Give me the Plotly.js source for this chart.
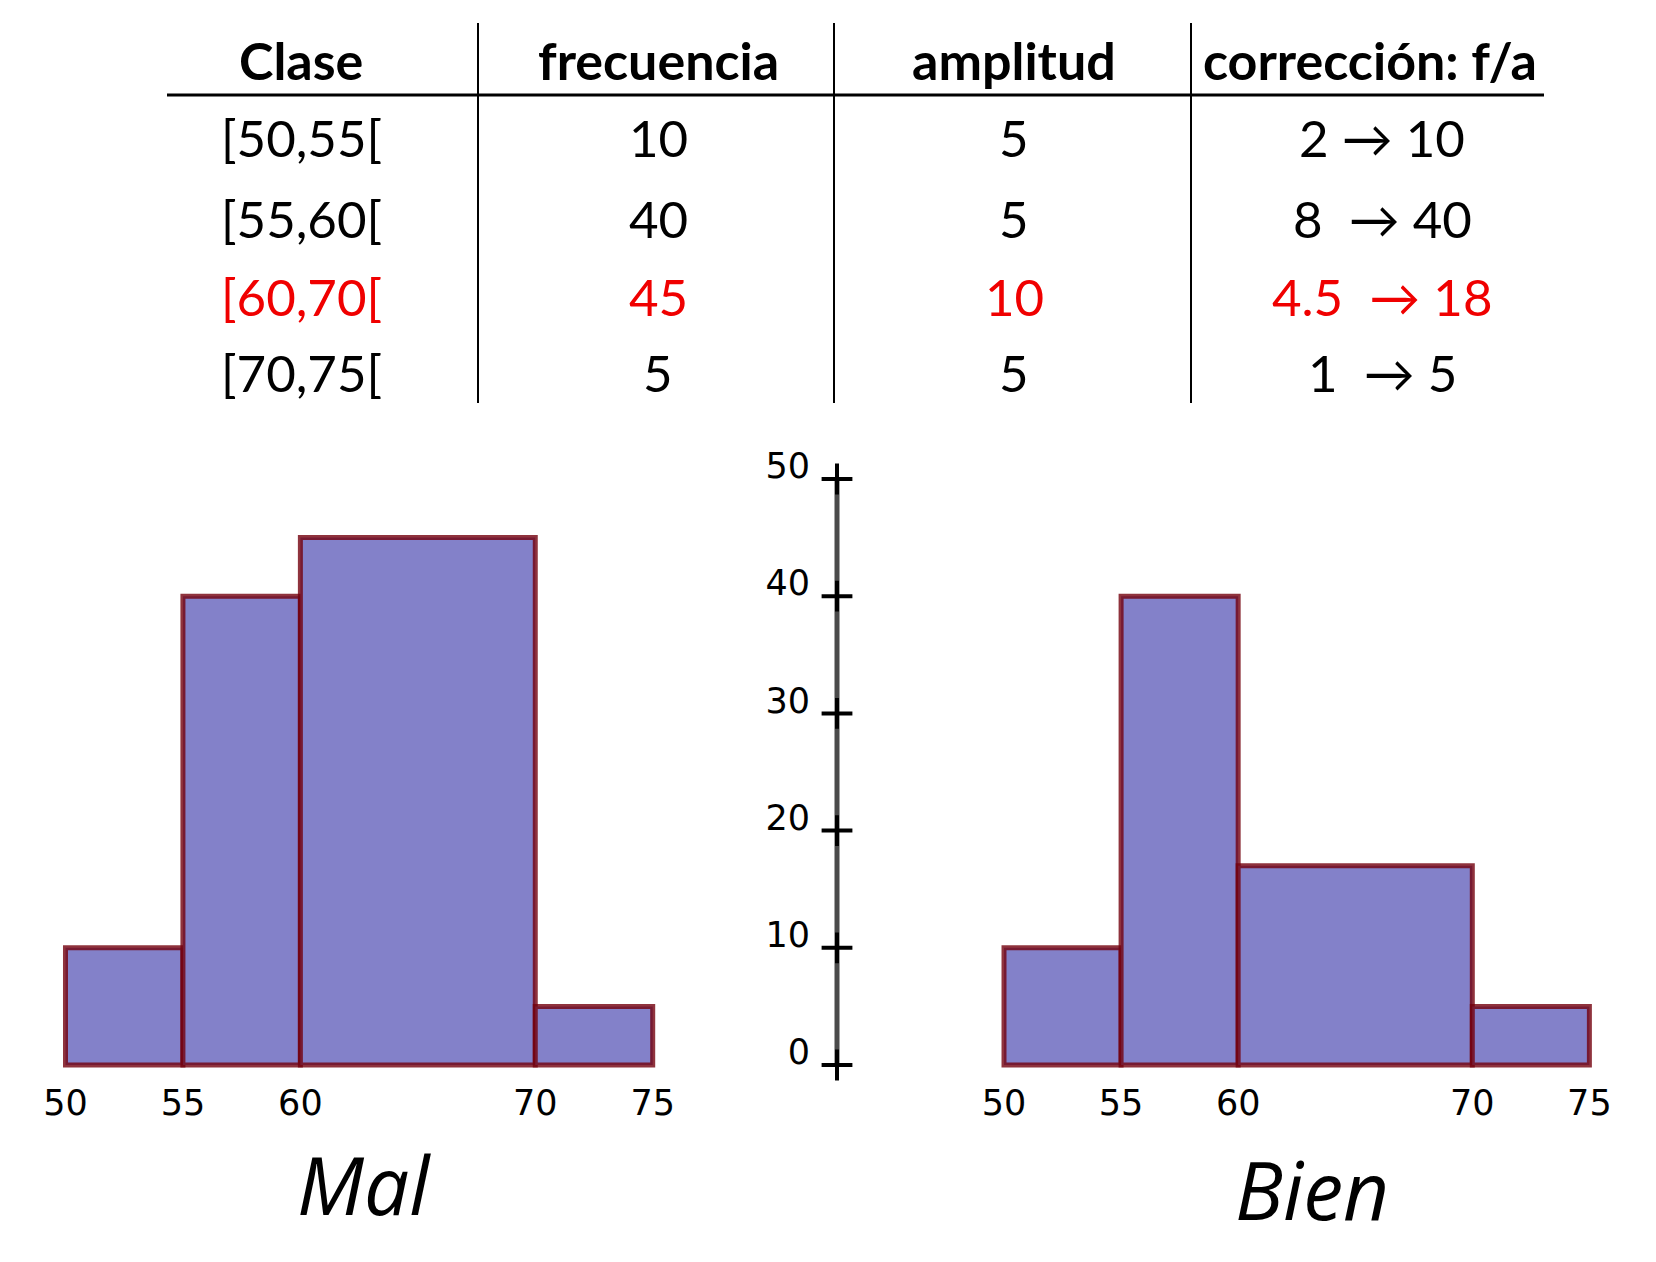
<!DOCTYPE html>
<html>
<head>
<meta charset="utf-8">
<script src="https://cdn.plot.ly/plotly-3.0.1.min.js"></script>
<style>html,body{margin:0;padding:0;background:#fff;}#chart{width:1656px;height:1262px;}</style>
</head>
<body>
<div id="chart"></div>
<script>
// ---- data ----
const encabezados = ['Clase', 'frecuencia', 'amplitud', 'corrección: f/a'];
const clases = ['[50,55[', '[55,60[', '[60,70[', '[70,75['];
const frecuencia = [10, 40, 45, 5];
const amplitud = [5, 5, 10, 5];
const correccion = ['2 \u2192 10', '8  \u2192 40', '4.5  \u2192 18', '1  \u2192 5'];
const destacada = [false, false, true, false];
const inicioClase = [50, 55, 60, 70];
const alturaMal = [10, 40, 45, 5];
const alturaBien = [10, 40, 17, 5];
const xTicks = [50, 55, 60, 70, 75];
const yTicks = [0, 10, 20, 30, 40, 50];
const tituloMal = 'Mal';
const tituloBien = 'Bien';

// ---- layout helpers (pixel -> paper) ----
const W = 1656, H = 1262;
const px = v => v / W;
const py = v => 1 - v / H;

const fill = '#8381C9';
const edge = 'rgba(115,0,12,0.8)';

const traces = [
  {
    type: 'bar', x: inicioClase, y: alturaMal, width: amplitud, offset: 0,
    xaxis: 'x', yaxis: 'y',
    marker: { color: fill, line: { color: edge, width: 5 } },
    hoverinfo: 'skip', showlegend: false
  },
  {
    type: 'bar', x: inicioClase, y: alturaBien, width: amplitud, offset: 0,
    xaxis: 'x2', yaxis: 'y2',
    marker: { color: fill, line: { color: edge, width: 5 } },
    hoverinfo: 'skip', showlegend: false
  },
  {
    type: 'scatter', mode: 'lines+markers',
    x: yTicks.map(() => 0), y: yTicks,
    xaxis: 'x3', yaxis: 'y3',
    line: { color: '#4a4a4a', width: 5 },
    marker: { symbol: 'cross-thin', size: 22, line: { color: '#000', width: 4 } },
    hoverinfo: 'skip', showlegend: false, cliponaxis: false
  }
];

const yDomain = [py(1076.7), py(467.3)];
const yRange = [-1, 51];
const hiddenY = {
  domain: yDomain, range: yRange, showgrid: false, zeroline: false,
  showline: false, showticklabels: false, ticks: '', fixedrange: true
};
const histX = (dom) => ({
  domain: dom, range: [49, 76], showgrid: false, zeroline: false, showline: false,
  tickmode: 'array', tickvals: xTicks, ticktext: xTicks.map(String), ticks: '',
  tickfont: { family: 'DejaVu Sans', size: 35, color: '#000' },
  ticklabelstandoff: 2, fixedrange: true
});

const annotations = [];
const colX = [301, 658, 1014, 1370];
const rowY = [137, 219, 297, 372];
encabezados.forEach((t, j) => {
  annotations.push({
    xref: 'paper', yref: 'paper', x: px(colX[j]), y: py(60),
    xanchor: 'center', yanchor: 'middle', showarrow: false, text: t,
    font: { family: 'Lato', size: 52, weight: 'bold', color: '#000' }
  });
});
const columnas = [clases, frecuencia.map(String), amplitud.map(String), correccion];
columnas.forEach((col, j) => {
  col.forEach((t, i) => {
    annotations.push({
      xref: 'paper', yref: 'paper', x: px(j === 3 ? colX[j] + 12 : colX[j]), y: py(rowY[i]),
      xanchor: 'center', yanchor: 'middle', showarrow: false, text: t,
      font: { family: 'Lato', size: 51, color: destacada[i] ? '#F00000' : '#000' }
    });
  });
});
annotations.push({
  xref: 'paper', yref: 'paper', x: px(364), y: py(1183), xanchor: 'center', yanchor: 'middle',
  showarrow: false, text: tituloMal,
  font: { family: 'Open Sans', size: 80, style: 'italic', color: '#000' }
});
annotations.push({
  xref: 'paper', yref: 'paper', x: px(1312), y: py(1188), xanchor: 'center', yanchor: 'middle',
  showarrow: false, text: tituloBien,
  font: { family: 'Open Sans', size: 80, style: 'italic', color: '#000' }
});

const shapes = [
  { type: 'line', xref: 'paper', yref: 'paper', x0: px(167), x1: px(1544), y0: py(95), y1: py(95),
    line: { color: '#000', width: 3 } }
];
[478, 834, 1191].forEach(xv => {
  shapes.push({ type: 'line', xref: 'paper', yref: 'paper', x0: px(xv), x1: px(xv), y0: py(23), y1: py(403),
    line: { color: '#000', width: 2 } });
});

const layout = {
  width: W, height: H,
  margin: { l: 0, r: 0, t: 0, b: 0 },
  paper_bgcolor: '#fff', plot_bgcolor: 'rgba(0,0,0,0)',
  bargap: 0, barmode: 'overlay',
  showlegend: false,
  xaxis: histX([px(42.0), px(676.2)]),
  xaxis2: histX([px(980.6), px(1612.8)]),
  xaxis3: { domain: [px(815), px(859)], range: [-1, 1], visible: false, fixedrange: true },
  yaxis: Object.assign({ anchor: 'x' }, hiddenY),
  yaxis2: Object.assign({ anchor: 'x2' }, hiddenY),
  yaxis3: {
    anchor: 'x3', domain: yDomain, range: yRange, showgrid: false, zeroline: false, showline: false,
    tickmode: 'array', tickvals: yTicks, ticktext: yTicks.map(String), ticks: '',
    tickfont: { family: 'DejaVu Sans', size: 35, color: '#000' },
    ticklabelshift: -13, ticklabelstandoff: 4, fixedrange: true
  },
  annotations: annotations,
  shapes: shapes
};

Plotly.newPlot('chart', traces, layout, { staticPlot: true, displayModeBar: false });
</script>
</body>
</html>
